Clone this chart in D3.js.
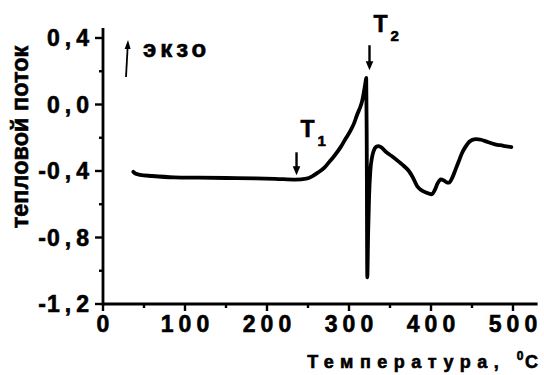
<!DOCTYPE html>
<html>
<head>
<meta charset="utf-8">
<script src="https://cdn.jsdelivr.net/npm/d3@7/dist/d3.min.js"></script>
<style>
  html, body { margin: 0; padding: 0; background: #fff; }
  svg { display: block; }
  text { font-family: "Liberation Sans", Arial, sans-serif; font-weight: bold; fill: #000; stroke: #000; stroke-width: 0.6px; }
</style>
</head>
<body>
<script>
// DSC trace: temperature (°C) vs heat flow
const temperature = [37, 40, 45, 60, 87, 117, 150, 186, 210, 235, 248, 255, 262, 270, 276, 282, 290, 296, 302, 306, 310, 313, 316, 318, 320, 321,
  321.6, 322.3, 323.3, 324.5, 326, 328, 330, 333, 336, 340, 345, 352, 361, 367, 373, 378, 383, 388, 394, 401, 405, 408, 412, 416, 419, 422, 426,
  430, 434, 438, 442, 446, 450, 455, 461, 467, 472, 477, 484, 490, 498];
const heatFlow = [-0.405, -0.417, -0.423, -0.430, -0.438, -0.440, -0.442, -0.444, -0.447, -0.452, -0.446, -0.432, -0.41, -0.38, -0.345, -0.31, -0.255, -0.205, -0.155, -0.115, -0.06, -0.025, 0.02, 0.07, 0.13, 0.16,
  -0.2, -1.04, -0.78, -0.55, -0.40, -0.32, -0.28, -0.255, -0.25, -0.26, -0.285, -0.31, -0.345, -0.37, -0.40, -0.44, -0.49, -0.515, -0.53, -0.54, -0.51, -0.475, -0.45, -0.458, -0.468, -0.47, -0.44,
  -0.39, -0.34, -0.29, -0.255, -0.228, -0.214, -0.208, -0.212, -0.222, -0.23, -0.238, -0.245, -0.25, -0.256];

const xTicks = [0, 100, 200, 300, 400, 500];
const xTickLabels = ["0", "100", "200", "300", "400", "500"];
const yTicks = [0.4, 0.0, -0.4, -0.8, -1.2];
const yTickLabels = ["0,4", "0,0", "-0,4", "-0,8", "-1,2"];
const xMinorTicks = [50, 150, 250, 350, 450];
const yMinorTicks = [0.2, -0.2, -0.6, -1.0];

// peak markers
const markerNames = ["T", "T"];
const markerSubs = ["1", "2"];
const markerTemps = [236, 325];
const markerFlows = [-0.45, 0.17];

const W = 544, H = 375;
const svg = d3.select("body").append("svg").attr("width", W).attr("height", H);

const x = d3.scaleLinear().domain([0, 500]).range([103, 513]);
const y = d3.scaleLinear().domain([-1.2, 0.4]).range([304, 38]);
const xMax = 530, yMax = 0.46;

const axisColor = "#000";

// axis lines
svg.append("line").attr("x1", x(0)).attr("x2", x(xMax)).attr("y1", y(-1.2)).attr("y2", y(-1.2))
  .attr("stroke", axisColor).attr("stroke-width", 2.8);
svg.append("line").attr("x1", x(0)).attr("x2", x(0)).attr("y1", y(-1.2) + 1.4).attr("y2", y(yMax))
  .attr("stroke", axisColor).attr("stroke-width", 2.8);

// x ticks
svg.selectAll(".xmaj").data(xTicks).enter().append("line")
  .attr("x1", d => x(d)).attr("x2", d => x(d)).attr("y1", y(-1.2)).attr("y2", y(-1.2) + 7)
  .attr("stroke", axisColor).attr("stroke-width", 2.4);
svg.selectAll(".xmin").data(xMinorTicks).enter().append("line")
  .attr("x1", d => x(d)).attr("x2", d => x(d)).attr("y1", y(-1.2)).attr("y2", y(-1.2) + 4)
  .attr("stroke", axisColor).attr("stroke-width", 2.4);
// y ticks
svg.selectAll(".ymaj").data(yTicks).enter().append("line")
  .attr("x1", x(0) - 8).attr("x2", x(0)).attr("y1", d => y(d)).attr("y2", d => y(d))
  .attr("stroke", axisColor).attr("stroke-width", 2.4);
svg.selectAll(".ymin").data(yMinorTicks).enter().append("line")
  .attr("x1", x(0) - 4).attr("x2", x(0)).attr("y1", d => y(d)).attr("y2", d => y(d))
  .attr("stroke", axisColor).attr("stroke-width", 2.4);

const LS = 5;
// x tick labels (letter-spacing trails each glyph, so shift by half of it)
svg.selectAll(".xl").data(xTicks).enter().append("text")
  .attr("x", d => x(d) + LS / 2).attr("y", 332)
  .attr("text-anchor", "middle").style("font-size", "23px").style("letter-spacing", LS + "px")
  .text((d, i) => xTickLabels[i]);
// y tick labels; the minus sign sits tight against the digit
svg.selectAll(".yl").data(yTicks).enter().append("text")
  .attr("x", 89 + LS).attr("y", d => y(d) + 8)
  .attr("text-anchor", "end").style("font-size", "23px").style("letter-spacing", LS + "px")
  .each(function (d, i) {
    const s = yTickLabels[i];
    const t = d3.select(this);
    if (s[0] === "-") {
      t.append("tspan").style("letter-spacing", "1px").text("-");
      t.append("tspan").text(s.slice(1));
    } else {
      t.text(s);
    }
  });

// axis titles
const xt = svg.append("text").attr("x", 538 + 6.5).attr("y", 368).attr("text-anchor", "end")
  .style("font-size", "18px").style("letter-spacing", "6.5px");
xt.append("tspan").text("Температура, ");
xt.append("tspan").attr("dy", -8).style("font-size", "12px").style("letter-spacing", "1.5px").text("0");
xt.append("tspan").attr("dy", 8).text("C");

svg.append("text").attr("transform", "translate(28,137) rotate(-90)")
  .attr("text-anchor", "middle").style("font-size", "23.5px").text("тепловой поток");

// exo direction marker
svg.append("text").attr("x", 143).attr("y", 57).style("font-size", "24px").style("letter-spacing", "4px").text("экзо");
svg.append("line").attr("x1", 126).attr("y1", 77).attr("x2", 127.6).attr("y2", 48)
  .attr("stroke", "#000").attr("stroke-width", 1.8);
svg.append("path").attr("d", "M124.6,49 L128,40 L130.6,49 Z").attr("fill", "#000");

// curve
const pts = temperature.map((t, i) => [t, heatFlow[i]]);
const line = d3.line().x(d => x(d[0])).y(d => y(d[1])).curve(d3.curveMonotoneX);
svg.append("path").datum(pts).attr("d", line).attr("fill", "none")
  .attr("stroke", "#000").attr("stroke-width", 3.8).attr("stroke-linejoin", "round").attr("stroke-linecap", "round");

// T1 / T2 markers: arrow pointing down to the curve, label above
const markerOffsets = [{ arrowTop: 23, labelDx: 4, labelY: 137 }, { arrowTop: 25, labelDx: 4, labelY: 32 }];
markerTemps.forEach((t, i) => {
  const px = x(t), py = y(markerFlows[i]);
  const tip = i === 0 ? py - 4 : py - 6;
  const top = tip - markerOffsets[i].arrowTop;
  svg.append("line").attr("x1", px).attr("x2", px).attr("y1", top).attr("y2", tip - 7)
    .attr("stroke", "#000").attr("stroke-width", 2.4);
  svg.append("path").attr("d", `M${px - 3.8},${tip - 9} L${px},${tip} L${px + 3.8},${tip - 9} Z`).attr("fill", "#000");
  const lbl = svg.append("text").attr("x", px + markerOffsets[i].labelDx).attr("y", markerOffsets[i].labelY)
    .style("font-size", "23px");
  lbl.append("tspan").text(markerNames[i]);
  lbl.append("tspan").attr("dx", 3).attr("dy", 9).style("font-size", "15px").text(markerSubs[i]);
});
</script>
</body>
</html>
